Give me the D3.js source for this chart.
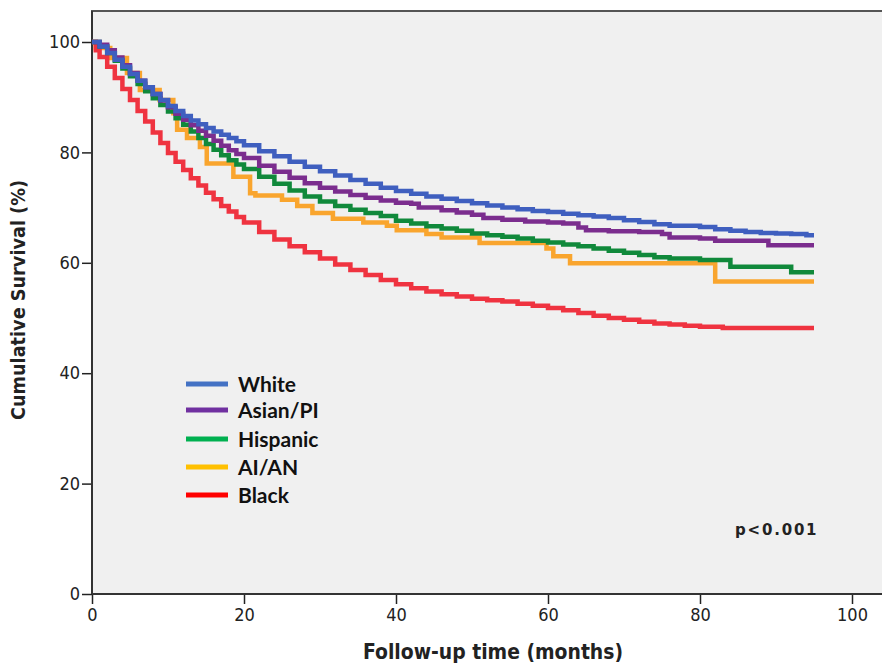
<!DOCTYPE html>
<html><head><meta charset="utf-8">
<script src="https://cdn.jsdelivr.net/npm/d3@7"></script>
<style>body{margin:0;background:#fff}</style>
</head><body><svg id="c" width="882" height="664"></svg>
<script>
const xTicks = [0,20,40,60,80,100];
const yTicks = [0,20,40,60,80,100];
const seriesNames = ["White","Asian/PI","Hispanic","AI/AN","Black"];
const lineColors = ["#3f5fbf","#7b2d8e","#10893b","#f9a52e","#ef3340"];
const legendColors = ["#4472c4","#7030a0","#00b050","#ffc000","#ff0000"];

const whiteT = [0,1,2,3,4,5,6,7,8,9,10,11,12,13,14,15,16,17,18,19,20,22,24,26,28,30,32,34,36,38,40,42,44,46,48,50,52,54,56,58,60,62,64,66,68,70,72,74,76,78,80,82,84,86,88,90,92,94,95];
const whiteS = [100,99.2,98.0,96.8,95.5,94.2,93.0,91.8,90.6,89.5,88.4,87.5,86.6,85.8,85.1,84.4,83.8,83.2,82.6,82.0,81.3,80.2,79.3,78.3,77.4,76.6,75.8,75.0,74.3,73.6,73.0,72.5,72.0,71.6,71.2,70.8,70.4,70.0,69.7,69.4,69.2,68.9,68.6,68.4,68.1,67.7,67.4,67.0,66.7,66.7,66.5,66.1,65.8,65.6,65.4,65.3,65.2,65.0,65.0];

const asianT = [0,1,2,3,4,5,6,7,8,9,10,11,12,13,14,15,16,17,18,19,20,22,24,26,28,30,32,34,36,38,40,42,43,46,48,50,51.5,54,57,60,62,64,65,68,72,75,76,80,82,89,95];
const asianS = [100,99.5,98.5,97.2,95.8,94.4,93.0,91.8,90.6,89.4,88.2,87.0,85.9,84.9,83.9,83.0,82.1,81.2,80.4,79.7,79.0,77.6,76.5,75.4,74.4,73.6,72.9,72.3,71.8,71.3,70.9,70.7,70.0,69.5,69.1,68.7,68.1,67.8,67.5,67.3,67.1,66.4,65.9,65.7,65.6,65.2,64.6,64.4,64.0,63.2,63.2];

const hispT = [0,1,2,3,4,5,6,7,8,9,10,11,12,13,14,15,16,17,18,19,20,22,24,26,28,30,32,34,36,38,40,42,44,46,48,50,52,54,56,58,60,62,64,66,68,70,72,74,76,80,84,92,95];
const hispS = [100,99.2,98.0,96.6,95.2,93.8,92.4,91.1,89.8,88.6,87.4,86.2,85.0,83.8,82.6,81.5,80.5,79.5,78.6,77.8,77.0,75.6,74.3,73.1,72.0,71.1,70.3,69.6,69.0,68.5,67.6,67.1,66.6,66.2,65.8,65.3,65.0,64.7,64.4,64.0,63.7,63.3,63.0,62.6,62.2,61.8,61.4,61.0,60.8,60.5,59.3,58.3,58.3];

const aianT = [0,0.5,2.4,4.6,6.3,8.9,10.7,11.2,12.5,14.2,15.1,18.6,20.8,21.5,25,27,29,31.7,35.7,38.8,40.1,44,46,51,59.8,60.7,62.9,82,95];
const aianS = [100,98.9,97.1,94.4,91.3,89.5,87.1,84.1,82.6,81.0,78.0,75.6,72.6,72.2,71.4,70.3,69.0,68.0,67.3,66.7,65.9,65.2,64.6,63.6,62.6,61.2,59.9,56.6,56.6];

const blackT = [0,0.5,1,2,3,4,5,6,7,8,9,10,11,12,13,14,15,16,17,18,19,20,22,24,26,28,30,32,34,36,38,40,42,44,46,48,50,52,54,56,58,60,62,64,66,68,70,72,74,76,78,80,83,95];
const blackS = [100,98.5,97.3,95.5,93.5,91.5,89.5,87.5,85.6,83.6,81.7,79.9,78.3,76.8,75.3,74.0,72.7,71.5,70.3,69.3,68.3,67.3,65.6,64.2,63.0,61.9,60.8,59.7,58.7,57.8,56.9,56.1,55.4,54.8,54.3,53.9,53.5,53.2,53.0,52.6,52.2,51.8,51.4,50.9,50.4,50.0,49.7,49.3,49.0,48.8,48.6,48.4,48.2,48.2];

const series = [[whiteT,whiteS],[asianT,asianS],[hispT,hispS],[aianT,aianS],[blackT,blackS]];

const svg = d3.select("#c");
const x = d3.scaleLinear().domain([0,100]).range([92,852]);
const y = d3.scaleLinear().domain([0,100]).range([594,42]);

svg.append("rect").attr("x",92).attr("y",11).attr("width",800).attr("height",583)
  .attr("fill","#f0f0f0").attr("stroke","#555").attr("stroke-width",2);

const tickFont = "'DejaVu Sans Condensed','DejaVu Sans',sans-serif";
const yAxis = svg.append("g").attr("transform","translate(92,0)")
  .call(d3.axisLeft(y).tickValues(yTicks).tickSize(10).tickPadding(2).tickFormat(d3.format("d")));
yAxis.select(".domain").remove();
yAxis.selectAll("text").attr("font-family",tickFont).attr("font-size",18).attr("fill","#222");
yAxis.selectAll("line").attr("stroke","#222").attr("stroke-width",1.5);

const xAxis = svg.append("g").attr("transform","translate(0,594)")
  .call(d3.axisBottom(x).tickValues(xTicks).tickSize(10).tickPadding(4).tickFormat(d3.format("d")));
xAxis.select(".domain").remove();
xAxis.selectAll("text").attr("font-family",tickFont).attr("font-size",18).attr("fill","#222");
xAxis.selectAll("line").attr("stroke","#222").attr("stroke-width",1.5);

svg.append("line").attr("x1",92).attr("x2",882).attr("y1",594).attr("y2",594).attr("stroke","#333").attr("stroke-width",2);
svg.append("line").attr("x1",92).attr("x2",92).attr("y1",11).attr("y2",594).attr("stroke","#333").attr("stroke-width",2);

svg.append("text").attr("x",493).attr("y",659).attr("text-anchor","middle")
  .attr("font-family",tickFont).attr("font-weight","bold").attr("font-size",21).attr("fill","#222")
  .attr("textLength",260).attr("lengthAdjust","spacingAndGlyphs")
  .text("Follow-up time (months)");
svg.append("text").attr("transform","translate(25,300) rotate(-90)").attr("text-anchor","middle")
  .attr("font-family",tickFont).attr("font-weight","bold").attr("font-size",20).attr("fill","#222")
  .attr("textLength",240).attr("lengthAdjust","spacingAndGlyphs")
  .text("Cumulative Survival (%)");

const line = d3.line().curve(d3.curveStepAfter).x(d=>x(d[0])).y(d=>y(d[1]));
const plot = svg.append("g");
[3,4,2,1,0].forEach(i=>{
  const [T,S] = series[i];
  plot.append("path").attr("d", line(T.map((t,k)=>[t,S[k]])))
    .attr("fill","none").attr("stroke",lineColors[i]).attr("stroke-width",4.5);
});

const legY = [384,410,439,467,495];
seriesNames.forEach((n,i)=>{
  svg.append("line").attr("x1",186).attr("x2",228).attr("y1",legY[i]).attr("y2",legY[i])
    .attr("stroke",legendColors[i]).attr("stroke-width",5);
  svg.append("text").attr("x",238).attr("y",legY[i]+8).attr("font-family","Lato,sans-serif")
    .attr("font-weight","bold").attr("font-size",21).attr("fill","#111").text(n);
});

svg.append("text").attr("x",735).attr("y",535).attr("font-family","'DejaVu Sans',sans-serif")
  .attr("font-weight","bold").attr("font-size",15).attr("letter-spacing",1.8).attr("fill","#222").text("p<0.001");
</script></body></html>
